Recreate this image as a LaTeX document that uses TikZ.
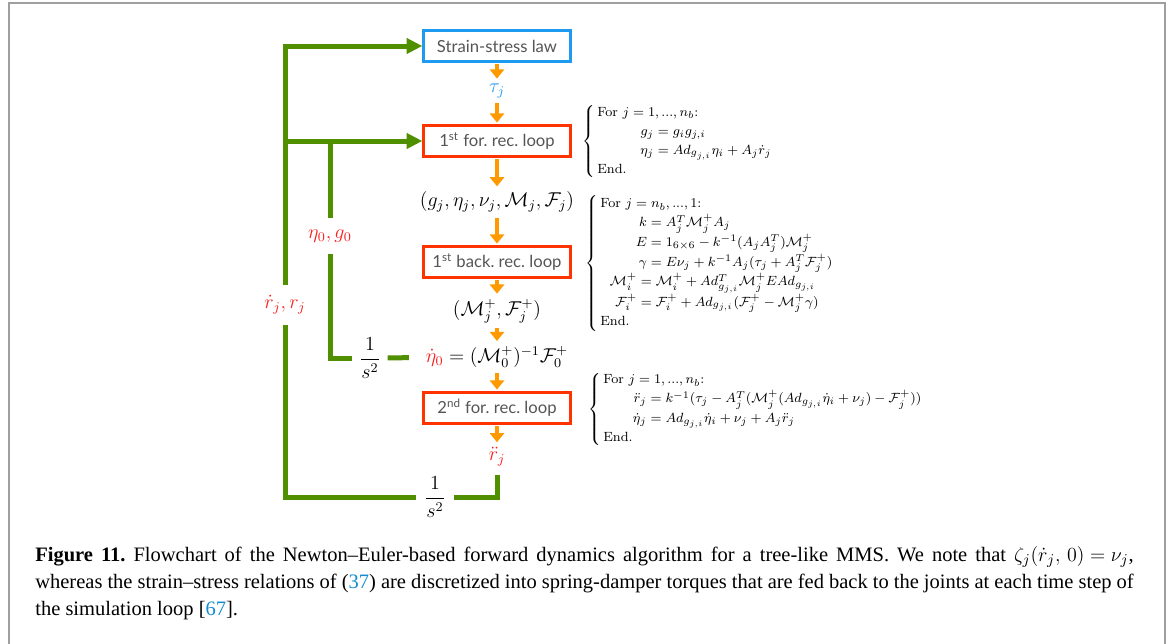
\documentclass[tikz,border=0pt]{standalone}
\usepackage{amsmath}
\usepackage{amssymb}
\usepackage{xcolor}
\usepackage{fontspec}
\newfontfamily\boxfont{Lato}
\newfontfamily\capfont{Liberation Serif}
\usepackage{tikz}
\usetikzlibrary{arrows.meta,positioning,calc}

\definecolor{feedgreen}{RGB}{79,143,0}
\definecolor{looporange}{RGB}{255,153,0}
\definecolor{boxred}{RGB}{255,51,0}
\definecolor{lawblue}{RGB}{30,155,240}
\definecolor{symred}{RGB}{250,30,30}
\definecolor{refblue}{RGB}{20,140,210}
\definecolor{labelgray}{RGB}{85,85,85}

\newcommand{\Mc}{\mathcal{M}}
\newcommand{\Fc}{\mathcal{F}}
\newcommand{\Adg}{Ad_{g_{j,i}}}
\newcommand{\eqat}[2]{\hspace{#1}\llap{$#2$}}
\renewcommand{\arraystretch}{1.2}
\frenchspacing

\begin{document}
\begin{tikzpicture}[
    x=0.6pt, y=-0.6pt,
    loopbox/.style={draw=boxred, line width=1.5pt, minimum width=88pt, minimum height=18.6pt, inner sep=2pt, font=\boxfont\fontsize{10}{12}\selectfont, text=labelgray},
    lawbox/.style={loopbox, draw=lawblue},
    qty/.style={font=\fontsize{12}{14}\selectfont, inner sep=2pt},
    flow/.style={draw=looporange, line width=2.4pt, -{Triangle[width=8.5pt,length=5.5pt]}, shorten <=1pt, shorten >=1pt},
    feed/.style={draw=feedgreen, line width=3pt},
    feedarrow/.style={feed, -{Triangle[width=9pt,length=9.5pt]}},
    steps/.style={font=\fontsize{8}{9.5}\selectfont, anchor=west, inner sep=0pt},
    capline/.style={font=\capfont\fontsize{12.3}{14}\selectfont, anchor=base west, inner sep=0pt}
]
\useasboundingbox (0,0) rectangle (1173,644);

% page frame
\draw[gray!75, line width=1.2pt] (9,644) -- (9,3) -- (1165,3) -- (1165,644);

% Main chain of the algorithm
\node[lawbox] (law) at (497,46) {Strain-stress law};
\node[qty, text=lawblue] (tau) at (497,91) {$\tau_j$};
\node[loopbox] (fwd1) at (497,141) {1\textsuperscript{st} for. rec. loop};
\node[qty] (state) at (497,202) {$(g_j, \eta_j, \nu_j, \Mc_j, \Fc_j)$};
\node[loopbox] (back) at (497,262) {1\textsuperscript{st} back. rec. loop};
\node[qty] (artic) at (497,311) {$(\Mc_j^+, \Fc_j^+)$};
\node[qty] (etadot) at (497,357) {$\textcolor{symred}{\dot\eta_0} = (\Mc_0^+)^{-1}\Fc_0^+$};
\node[loopbox] (fwd2) at (497,408) {2\textsuperscript{nd} for. rec. loop};
\node[qty, text=symred] (rdd) at (497,457) {$\ddot r_j$};

\foreach \a/\b in {law/tau, tau/fwd1, fwd1/state, state/back, back/artic, artic/etadot, etadot/fwd2, fwd2/rdd}
    \draw[flow] (\a) -- (\b);

% Feedback: integrators and joint states
\node[qty, text=symred, inner sep=6pt] (rlab) at (285,305) {$\dot r_j, r_j$};
\node[qty, text=symred, inner sep=7pt] (etalab) at (330,236) {$\eta_0, g_0$};
\node[qty, inner sep=4pt] (int1) at (370,358) {$\dfrac{1}{s^2}$};
\node[qty, inner sep=5pt] (int2) at (435,497) {$\dfrac{1}{s^2}$};
\coordinate (split) at (330,141);

\draw[feed, shorten <=3pt] (rdd) |- (int2);
\draw[feed] (int2) -| (rlab);
\draw[feedarrow] (rlab) |- (law);
\draw[feedarrow] (rlab) |- (fwd1);
\draw[feed] (split) -- (etalab);
\draw[feed] (etalab) |- (int1);
\draw[feed, shorten >=8pt] (int1) -- (etadot);

% Recursions of each loop
\node[steps] (steps1) at (582,141) {$\left\{\,\begin{array}{@{}l@{}}
    \text{For } j = 1, ..., n_b\text{:}\\
    \eqat{34pt}{g_j} = g_i g_{j,i}\\
    \eqat{34pt}{\eta_j} = \Adg\eta_i + A_j\dot r_j\\
    \text{End.}
\end{array}\right.$};

\node[steps] (steps2) at (585,263) {$\left\{\,\begin{array}{@{}l@{}}
    \text{For } j = n_b, ..., 1\text{:}\\
    \eqat{28pt}{k} = A_j^T\Mc_j^+A_j\\
    \eqat{28pt}{E} = 1_{6\times 6} - k^{-1}(A_jA_j^T)\Mc_j^+\\
    \eqat{28pt}{\gamma} = E\nu_j + k^{-1}A_j(\tau_j + A_j^T\Fc_j^+)\\
    \eqat{22pt}{\Mc_i^+} = \Mc_i^+ + Ad_{g_{j,i}}^T\Mc_j^+E\Adg\\
    \eqat{22pt}{\Fc_i^+} = \Fc_i^+ + \Adg(\Fc_j^+ - \Mc_j^+\gamma)\\
    \text{End.}
\end{array}\right.$};

\node[steps] (steps3) at (588,409) {$\left\{\,\begin{array}{@{}l@{}}
    \text{For } j = 1, ..., n_b\text{:}\\
    \eqat{26pt}{\ddot r_j} = k^{-1}(\tau_j - A_j^T(\Mc_j^+(\Adg\dot\eta_i + \nu_j) - \Fc_j^+))\\
    \eqat{26pt}{\dot\eta_j} = \Adg\dot\eta_i + \nu_j + A_j\ddot r_j\\
    \text{End.}
\end{array}\right.$};

% Caption
\node[capline] (cap1) at (35,561) {\makebox[659pt][s]{\textbf{Figure 11.} Flowchart of the Newton–Euler-based forward dynamics algorithm for a tree-like MMS. We note that \mbox{$\zeta_j(\dot r_j,\,0) = \nu_j$},}};
\node[capline] (cap2) at (35,588) {\makebox[659pt][s]{whereas the strain–stress relations of (\textcolor{refblue}{37}) are discretized into spring-damper torques that are fed back to the joints at each time step of}};
\node[capline] (cap3) at (35,615) {the simulation loop [\textcolor{refblue}{67}].};

\end{tikzpicture}
\end{document}
